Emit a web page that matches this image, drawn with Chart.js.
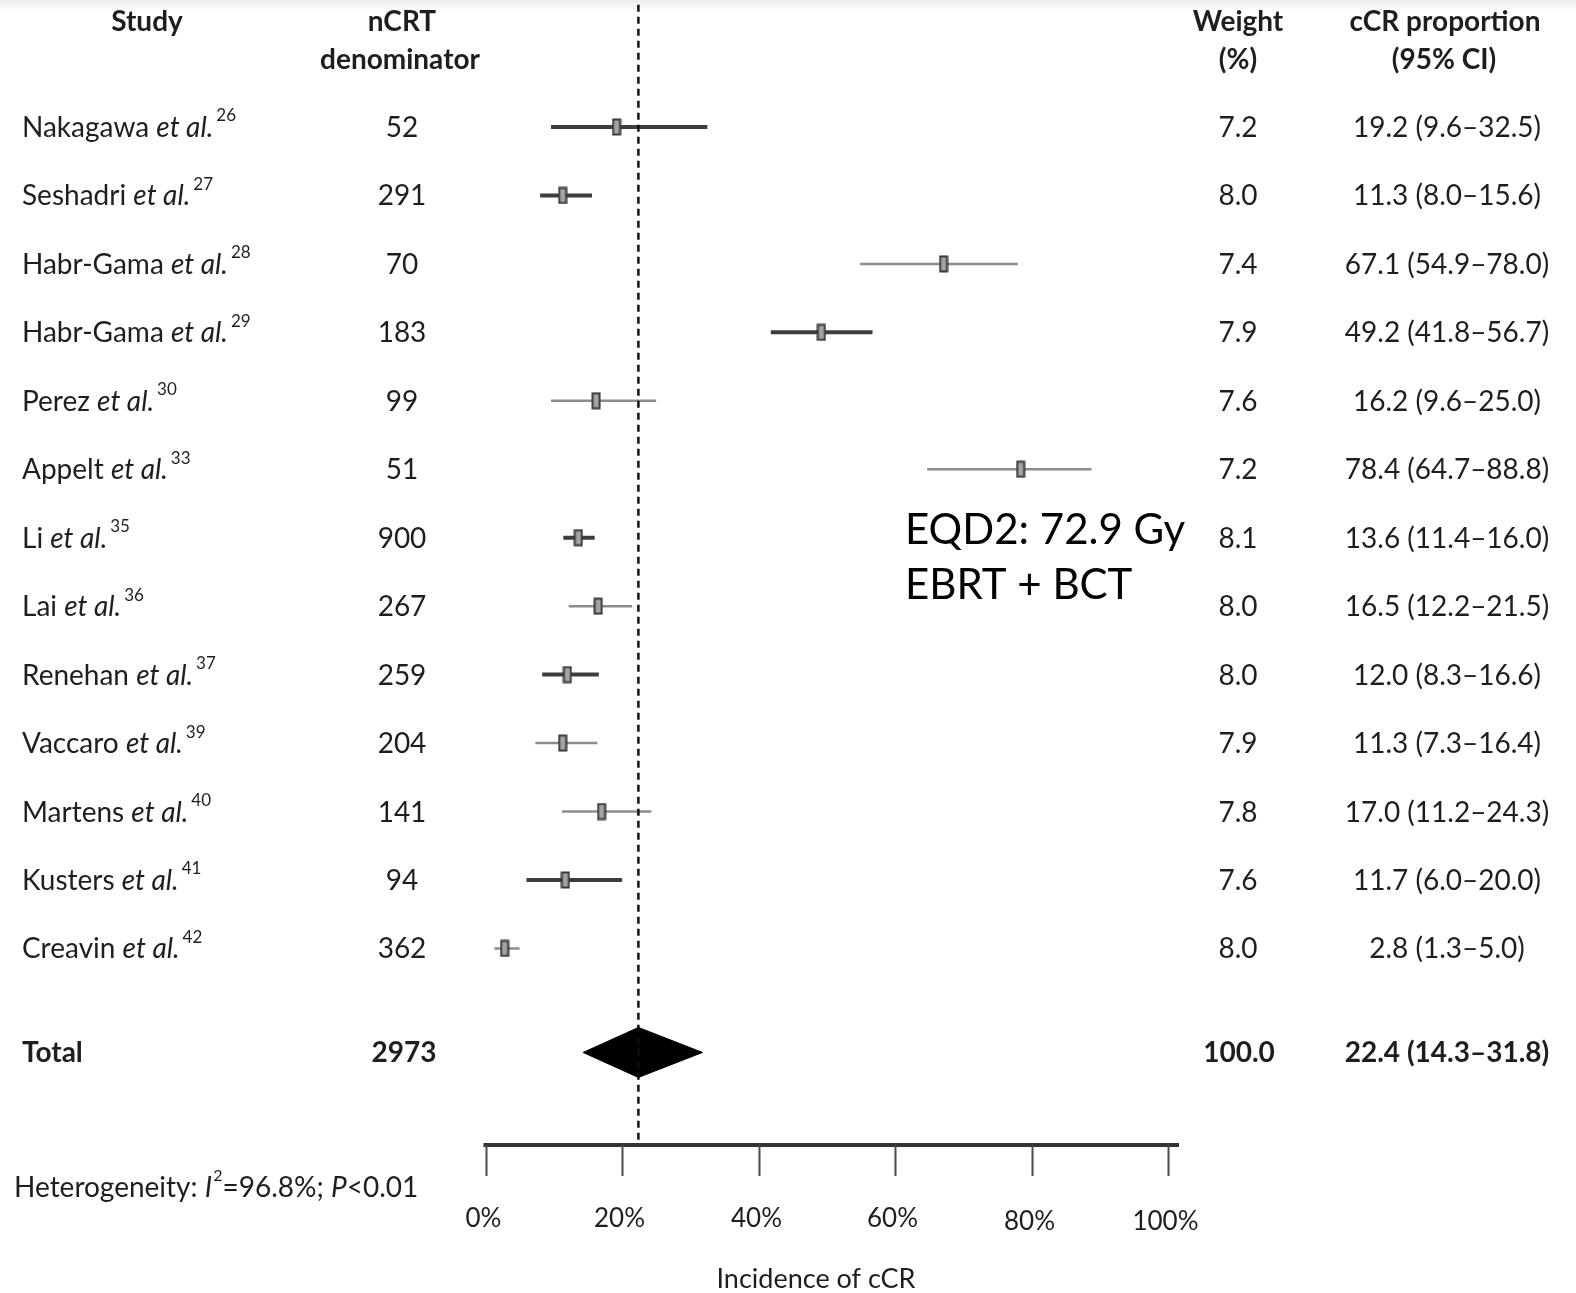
<!DOCTYPE html>
<html>
<head>
<meta charset="utf-8">
<script src="https://cdn.jsdelivr.net/npm/chart.js@4.4.1/dist/chart.umd.min.js"></script>
<style>
  html, body { margin: 0; padding: 0; }
  body { width: 1576px; height: 1293px; overflow: hidden;
         background: linear-gradient(#ebebeb 0px, #ffffff 12px) no-repeat, #ffffff; }
  canvas { display: block; }
</style>
</head>
<body>
<canvas id="forest" width="1576" height="1293"></canvas>
<script>
// Estudos, referências e valores de cada linha
const studies = ['Nakagawa', 'Seshadri', 'Habr-Gama', 'Habr-Gama', 'Perez', 'Appelt', 'Li',
                 'Lai', 'Renehan', 'Vaccaro', 'Martens', 'Kusters', 'Creavin'];
const refs = [26, 27, 28, 29, 30, 33, 35, 36, 37, 39, 40, 41, 42];
const denominators = [52, 291, 70, 183, 99, 51, 900, 267, 259, 204, 141, 94, 362];
const weights = [7.2, 8.0, 7.4, 7.9, 7.6, 7.2, 8.1, 8.0, 8.0, 7.9, 7.8, 7.6, 8.0];
const estimates = [19.2, 11.3, 67.1, 49.2, 16.2, 78.4, 13.6, 16.5, 12.0, 11.3, 17.0, 11.7, 2.8];
const ciLow = [9.6, 8.0, 54.9, 41.8, 9.6, 64.7, 11.4, 12.2, 8.3, 7.3, 11.2, 6.0, 1.3];
const ciHigh = [32.5, 15.6, 78.0, 56.7, 25.0, 88.8, 16.0, 21.5, 16.6, 16.4, 24.3, 20.0, 5.0];

// Estimativa combinada
const totalN = 2973;
const totalWeight = 100.0;
const totalEst = 22.4;
const totalLow = 14.3;
const totalHigh = 31.8;
const heterogeneityI2 = 96.8;

const xTicks = [0, 20, 40, 60, 80, 100];

// Layout
const ROW_PX = 68.45;
const FIRST_ROW_PX = 127;
const AXIS_PX = 1145;
const Y_MIN = -FIRST_ROW_PX / ROW_PX;
const Y_MAX = Y_MIN + AXIS_PX / ROW_PX;
const TOTAL_ROW = studies.length + 0.52;
const DIAMOND_HALF = 25 / ROW_PX;
const thinRows = [2, 4, 5, 7, 9, 10, 12]; // linhas com traço mais claro

const FONT = 'Lato, "Open Sans", sans-serif';
const TEXT = '#1e1e1e';

// marcador da estimativa: retângulo pequeno cinza
const box = document.createElement('canvas');
box.width = 10; box.height = 18;
(() => {
  const c = box.getContext('2d');
  c.fillStyle = '#a4a4a4';
  c.fillRect(1.5, 1.5, 7, 15);
  c.strokeStyle = '#3a3a3a';
  c.lineWidth = 2;
  c.strokeRect(1.5, 1.5, 7, 15);
})();

const ciSets = studies.map((s, i) => {
  const thin = thinRows.includes(i);
  return {
    type: 'line',
    data: [{x: ciLow[i], y: i}, {x: ciHigh[i], y: i}],
    borderColor: thin ? '#8c8c8c' : '#3d3d3d',
    borderWidth: thin ? 2.5 : 4,
    pointRadius: 0,
    order: 3
  };
});

const pointSet = {
  type: 'scatter',
  data: estimates.map((v, i) => ({x: v, y: i})),
  pointStyle: box,
  order: 1
};

const diamondSet = {
  type: 'line',
  data: [
    {x: totalLow, y: TOTAL_ROW},
    {x: totalEst, y: TOTAL_ROW - DIAMOND_HALF},
    {x: totalHigh, y: TOTAL_ROW},
    {x: totalEst, y: TOTAL_ROW + DIAMOND_HALF},
    {x: totalLow, y: TOTAL_ROW}
  ],
  borderColor: '#000',
  backgroundColor: '#000',
  borderWidth: 1,
  fill: 'shape',
  pointRadius: 0,
  tension: 0,
  order: 2
};

const refLine = {
  type: 'line',
  data: [{x: totalEst, y: Y_MIN + 0.07}, {x: totalEst, y: Y_MAX}],
  borderColor: '#111',
  borderWidth: 2.5,
  borderDash: [7, 5],
  pointRadius: 0,
  order: 0
};

// texto com trechos de fontes diferentes (itálico, sobrescrito)
function drawRich(ctx, parts, x, y) {
  let cx = x;
  ctx.textAlign = 'left';
  parts.forEach(p => {
    ctx.font = p.font;
    cx += p.dx || 0;
    ctx.fillText(p.text, cx, y + (p.dy || 0));
    cx += ctx.measureText(p.text).width;
  });
}

const tablePlugin = {
  id: 'table',
  afterDraw(chart) {
    const {ctx, scales: {x, y}} = chart;
    ctx.save();
    ctx.fillStyle = TEXT;
    ctx.textBaseline = 'middle';

    const reg = `28px ${FONT}`;
    const ital = `italic 28px ${FONT}`;
    const bold = `bold 28px ${FONT}`;
    const sup = `17px ${FONT}`;

    // cabeçalhos
    ctx.font = bold;
    ctx.textAlign = 'center';
    ctx.fillText('Study', 147, 22);
    ctx.fillText('nCRT', 402, 22);
    ctx.fillText('denominator', 400, 60);
    ctx.fillText('Weight', 1238, 22);
    ctx.fillText('(%)', 1238, 60);
    ctx.fillText('cCR proportion', 1445, 22);
    ctx.fillText('(95% CI)', 1444, 60);

    // linhas dos estudos
    studies.forEach((s, i) => {
      const py = y.getPixelForValue(i) + 1;
      drawRich(ctx, [
        {text: s + ' ', font: reg},
        {text: 'et al.', font: ital},
        {text: String(refs[i]), font: sup, dy: -12, dx: 3}
      ], 22, py);
      ctx.font = reg;
      ctx.textAlign = 'center';
      ctx.fillText(String(denominators[i]), 402, py);
      ctx.fillText(weights[i].toFixed(1), 1238, py);
      ctx.fillText(`${estimates[i].toFixed(1)} (${ciLow[i].toFixed(1)}–${ciHigh[i].toFixed(1)})`, 1447, py);
    });

    // total
    const ty = y.getPixelForValue(TOTAL_ROW) + 1;
    ctx.font = bold;
    ctx.textAlign = 'left';
    ctx.fillText('Total', 22, ty);
    ctx.textAlign = 'center';
    ctx.fillText(String(totalN), 404, ty);
    ctx.fillText(totalWeight.toFixed(1), 1239, ty);
    ctx.fillText(`${totalEst.toFixed(1)} (${totalLow.toFixed(1)}–${totalHigh.toFixed(1)})`, 1447, ty);

    // eixo x
    const ay = chart.chartArea.bottom;
    ctx.strokeStyle = '#333';
    ctx.lineWidth = 4;
    ctx.beginPath();
    ctx.moveTo(x.getPixelForValue(-0.3), ay);
    ctx.lineTo(x.right, ay);
    ctx.stroke();
    ctx.strokeStyle = '#4a4a4a';
    ctx.lineWidth = 2;
    ctx.font = `26px ${FONT}`;
    ctx.textAlign = 'center';
    xTicks.forEach(t => {
      const px = Math.round(x.getPixelForValue(t)) + 0.5;
      ctx.beginPath();
      ctx.moveTo(px, ay);
      ctx.lineTo(px, ay + 31);
      ctx.stroke();
      ctx.fillText(t + '%', px - 3, ay + (t >= 80 ? 77 : 74));
    });
    ctx.font = `27px ${FONT}`;
    ctx.fillText('Incidence of cCR', 816, 1279);

    // heterogeneidade
    drawRich(ctx, [
      {text: 'Heterogeneity: ', font: `28px ${FONT}`},
      {text: 'I', font: `italic 28px ${FONT}`},
      {text: '2', font: `16px ${FONT}`, dy: -12, dx: 1},
      {text: `=${heterogeneityI2}%; `, font: `28px ${FONT}`},
      {text: 'P', font: `italic 28px ${FONT}`},
      {text: '<0.01', font: `28px ${FONT}`}
    ], 14, 1188);

    // anotação
    ctx.fillStyle = '#000';
    ctx.font = `42px ${FONT}`;
    ctx.textAlign = 'left';
    ctx.fillText('EQD2: 72.9 Gy', 905, 530);
    ctx.fillText('EBRT + BCT', 905, 585);
    ctx.restore();
  }
};

new Chart(document.getElementById('forest'), {
  type: 'scatter',
  data: { datasets: [refLine, pointSet, diamondSet, ...ciSets] },
  options: {
    responsive: false,
    animation: false,
    devicePixelRatio: 1,
    layout: { autoPadding: false, padding: { left: 485.5, right: 397, top: 0, bottom: 1293 - AXIS_PX } },
    plugins: { legend: { display: false }, tooltip: { enabled: false } },
    scales: {
      x: { type: 'linear', min: 0, max: 101.6, display: false },
      y: { type: 'linear', min: Y_MIN, max: Y_MAX, reverse: true, display: false }
    }
  },
  plugins: [tablePlugin]
});
</script>
</body>
</html>
